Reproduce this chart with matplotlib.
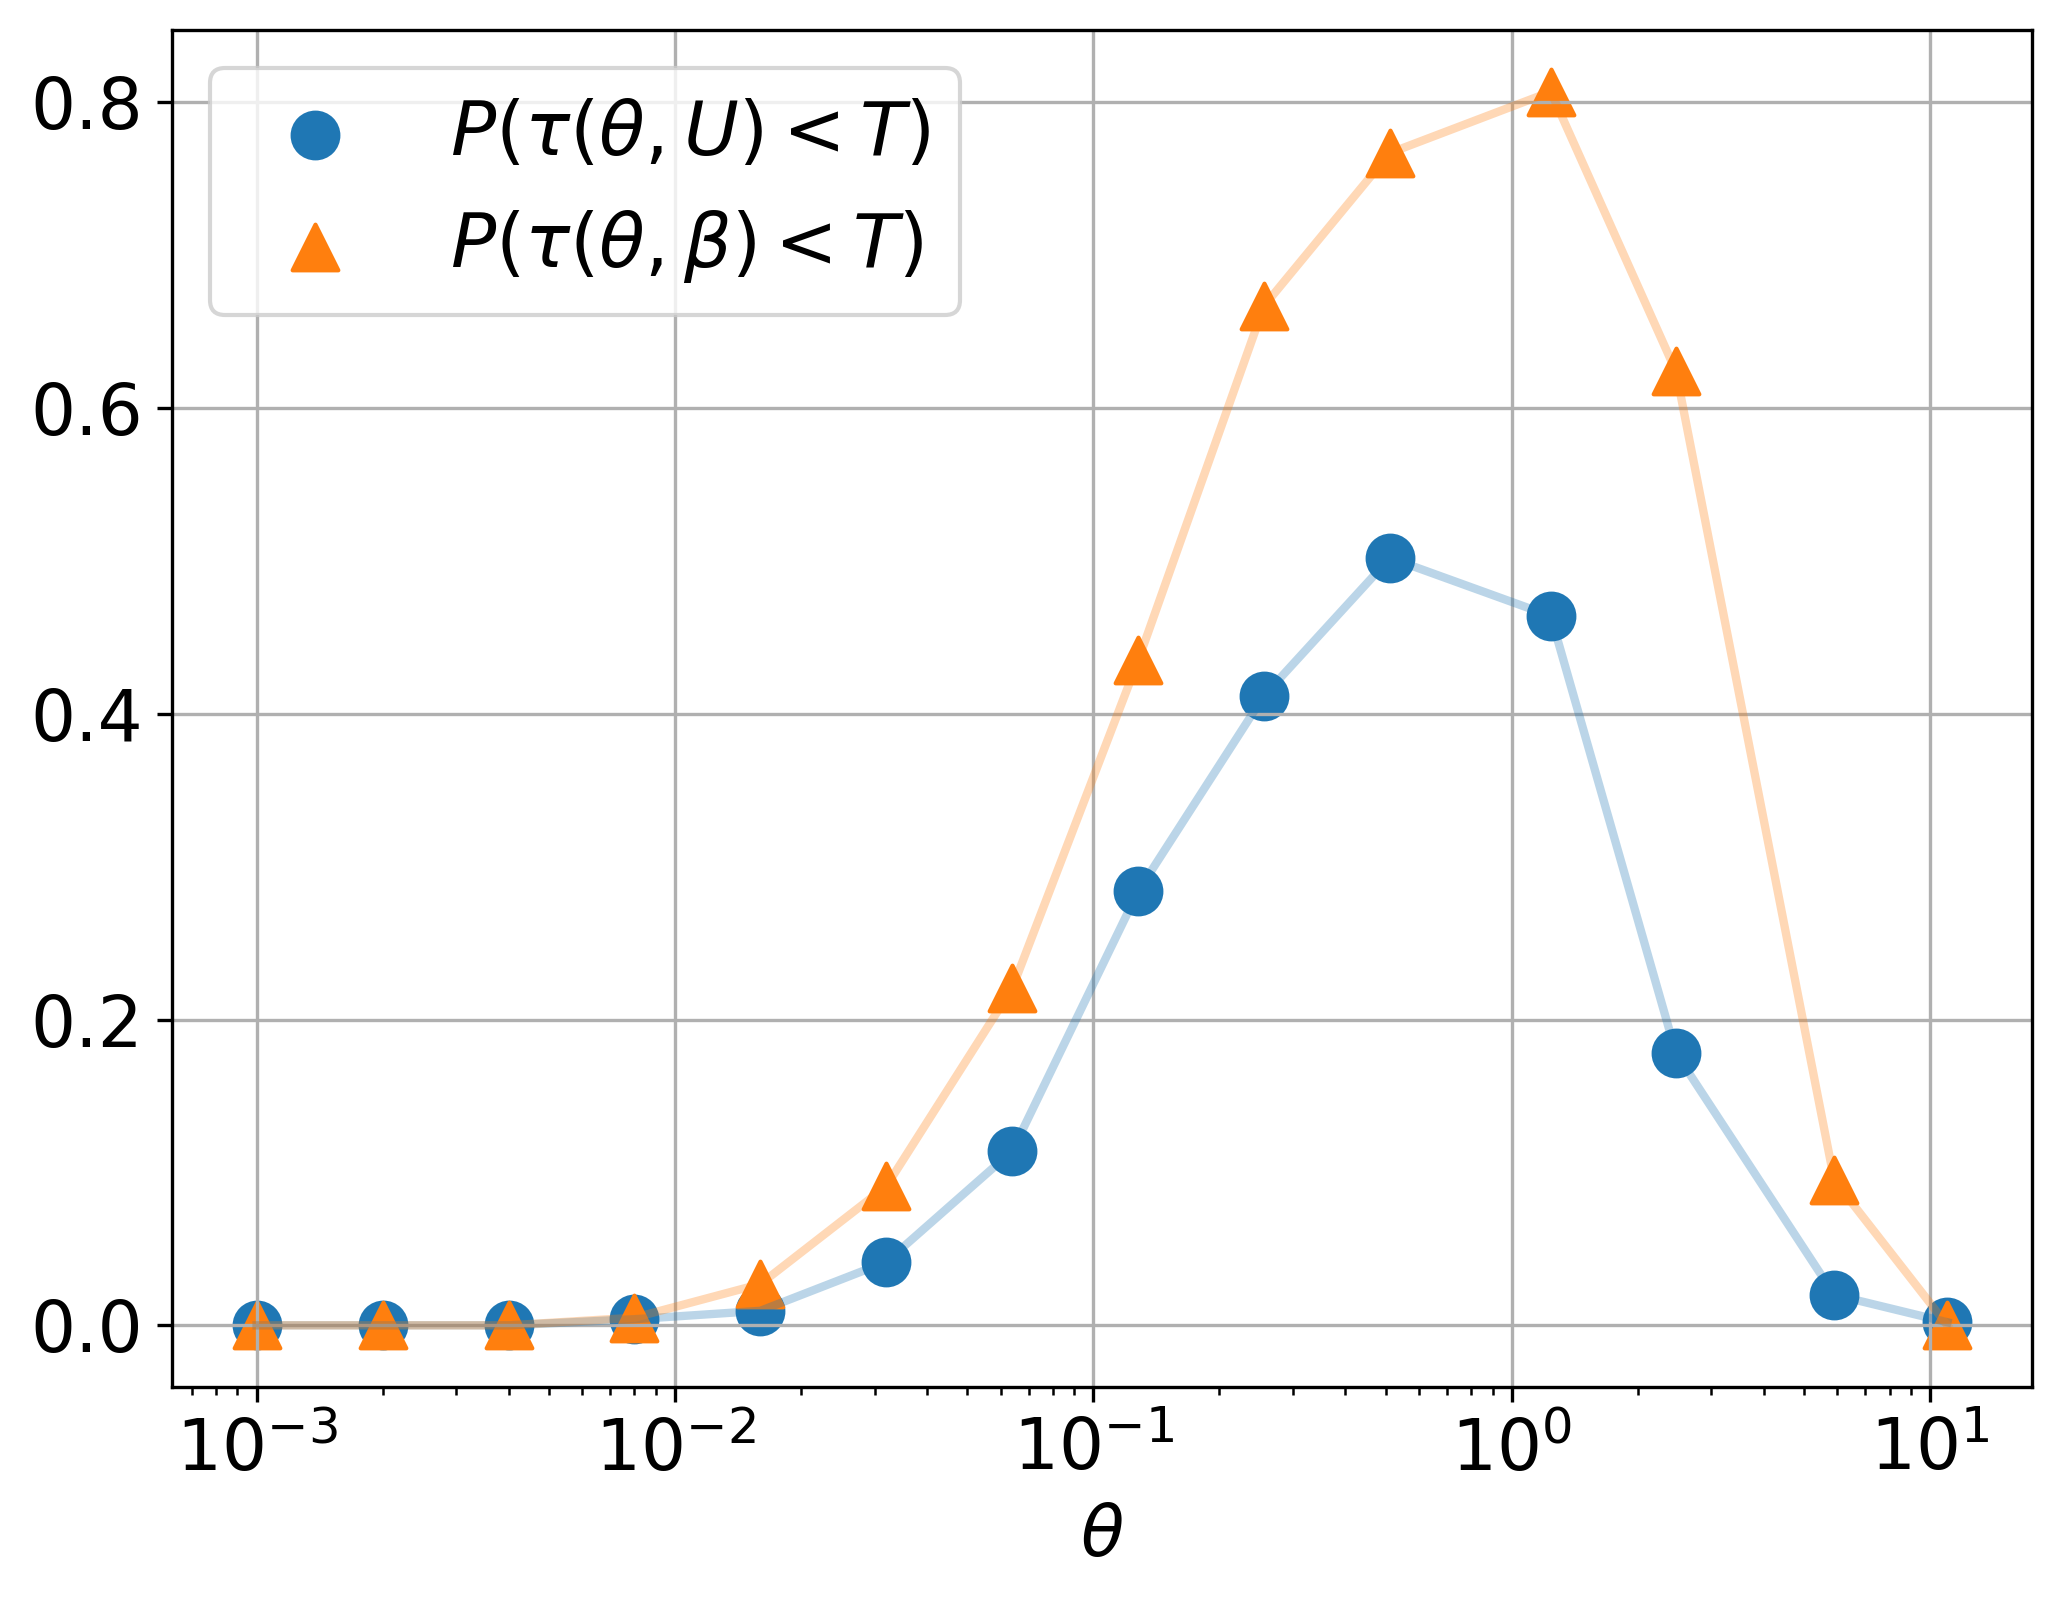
import matplotlib
matplotlib.use("Agg")
import matplotlib.pyplot as plt

# theta values (log axis)
theta = [0.001, 0.002, 0.004, 0.008, 0.016, 0.032, 0.064, 0.128, 0.256, 0.512,
         1.24, 2.47, 5.9, 11.0]
# P(tau(theta, U) < T)
p_uniform = [0.0, 0.0, 0.0, 0.004, 0.0095, 0.0415, 0.114, 0.284, 0.412, 0.502,
             0.464, 0.178, 0.020, 0.002]
# P(tau(theta, beta) < T)
p_beta = [0.0, 0.0, 0.0, 0.005, 0.027, 0.091, 0.2205, 0.435, 0.667, 0.767,
          0.807, 0.624, 0.095, 0.0]

label_u = r'$P(\tau(\theta,U)<T)$'
label_b = r'$P(\tau(\theta,\beta)<T)$'

plt.rcParams['font.size'] = 17

fig = plt.figure(figsize=(2061 / 300, 1607 / 300), dpi=300)
ax = fig.add_axes([0.0835, 0.1369, 0.9024, 0.8444])

# markers first (scatter sits below the lines)
ax.scatter(theta, p_uniform, s=120, marker='o', color='C0', label=label_u)
ax.scatter(theta, p_beta, s=120, marker='^', color='C1', label=label_b)
ax.plot(theta, p_uniform, color='C0', alpha=0.3, lw=2)
ax.plot(theta, p_beta, color='C1', alpha=0.3, lw=2)

ax.set_xscale('log')
ax.set_xlabel(r'$\theta$')
ax.set_yticks([0.0, 0.2, 0.4, 0.6, 0.8])
ax.grid(True, which='major')
ax.legend(loc='upper left', fontsize=18)

fig.savefig('out.png', dpi=300)
